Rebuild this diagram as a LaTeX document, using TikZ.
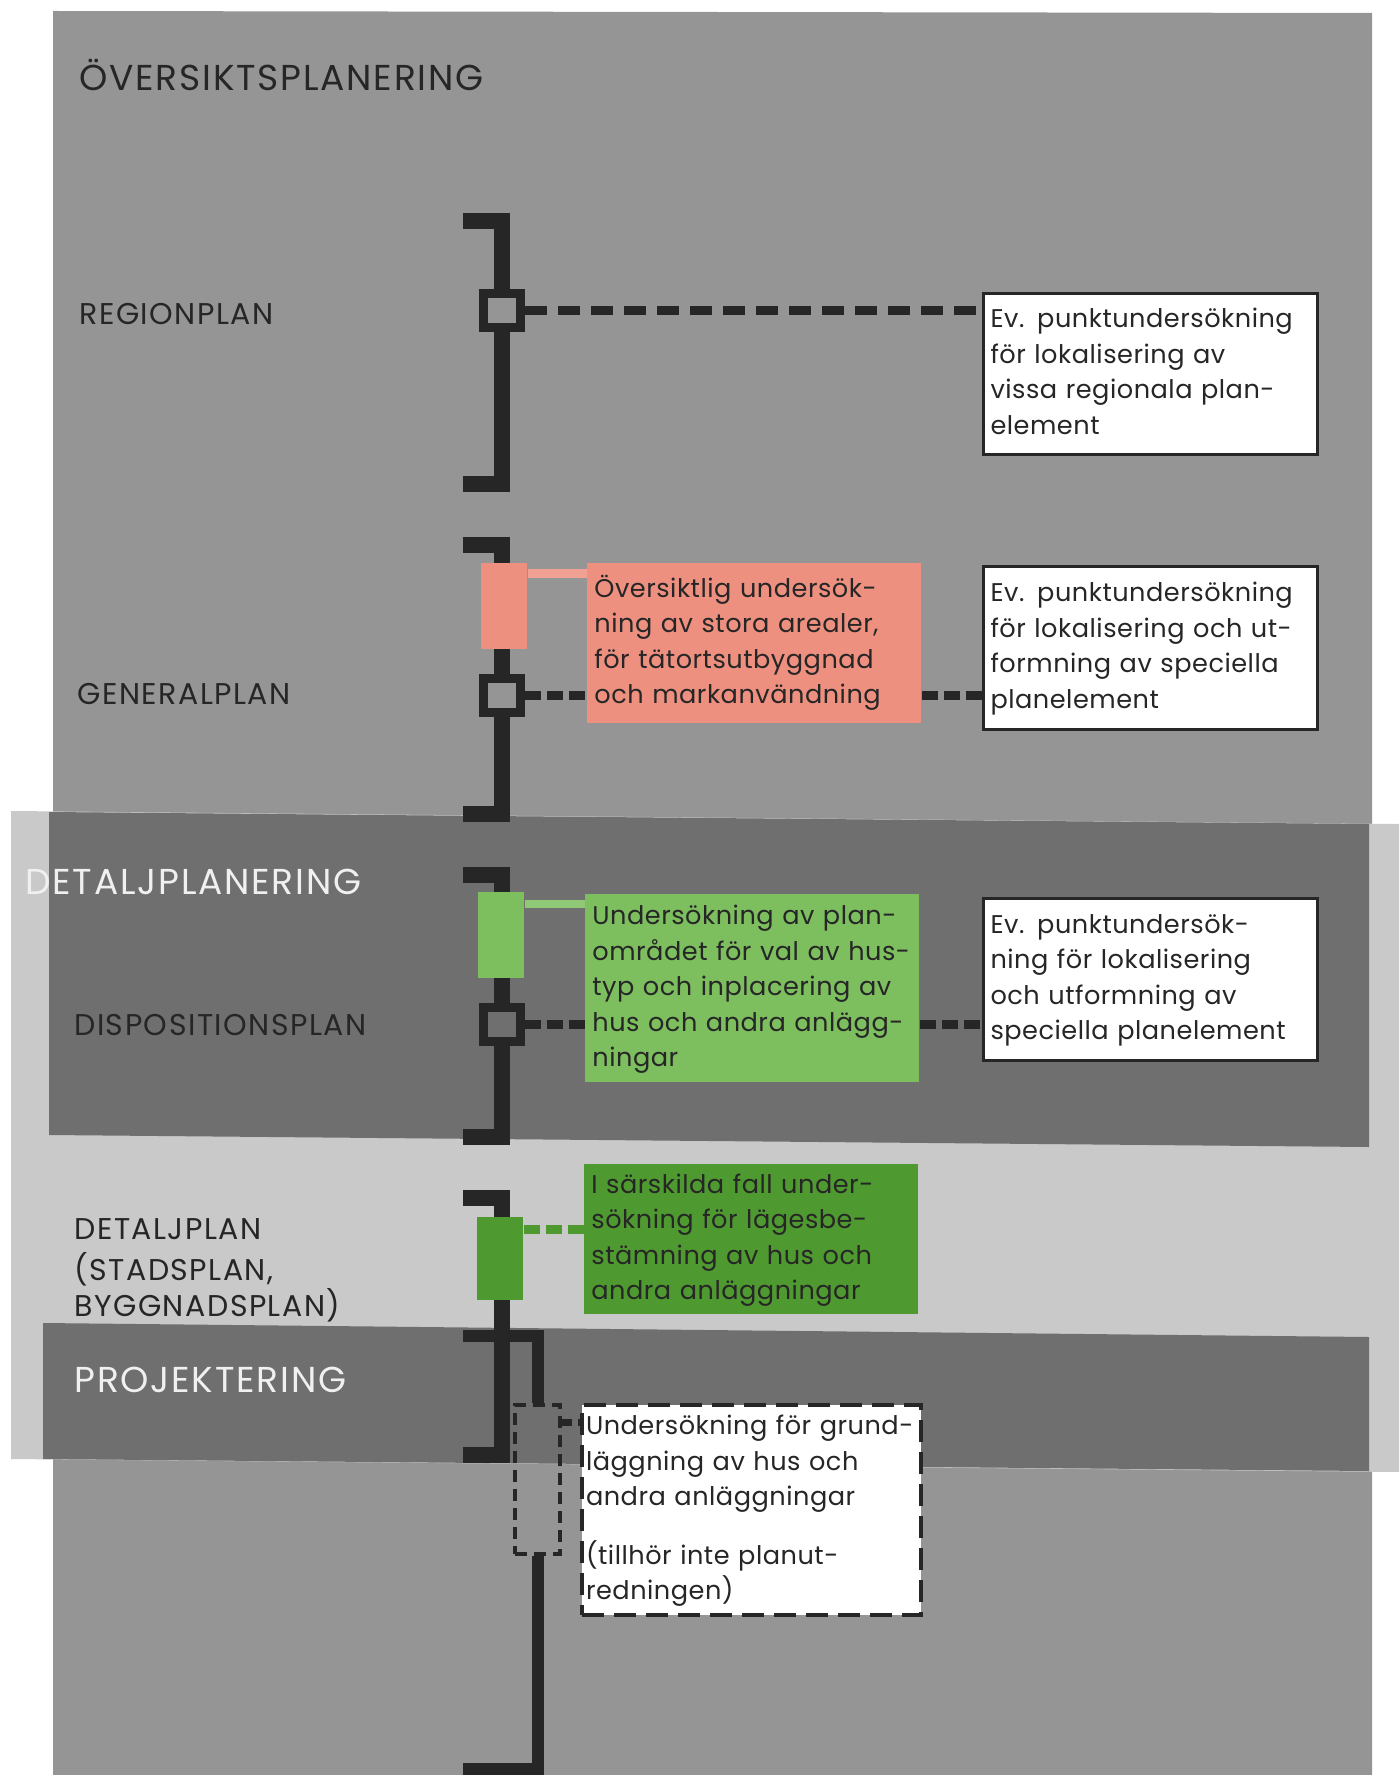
\documentclass[tikz,border=0pt]{standalone}
\usepackage{fontspec}
\setmainfont{Poppins}[LetterSpace=2]
\newfontfamily\spacedfont{Poppins}[LetterSpace=5]
\definecolor{PanelClr}{HTML}{959595}
\definecolor{SheetClr}{HTML}{C9C9C9}
\definecolor{BandClr}{HTML}{6F6F6F}
\definecolor{InkClr}{HTML}{262626}
\definecolor{SalmonClr}{HTML}{EE9080}
\definecolor{GreenClr}{HTML}{7DBE5F}
\definecolor{DarkGreenClr}{HTML}{4F9A30}

\begin{document}
\begin{tikzpicture}[x=0.5pt,y=-0.5pt,
  bar/.style={line width=8pt,color=InkClr,line join=miter},
  link/.style={line width=4.5pt,color=InkClr,dash pattern=on 11pt off 5.5pt},
  shortlink/.style={line width=4.5pt,color=InkClr,dash pattern=on 8pt off 3pt},
  tap/.style={minimum width=23pt,minimum height=43pt,inner sep=0pt,anchor=north west},
  knot/.style={draw=InkClr,line width=4.5pt,minimum width=18.5pt,minimum height=17pt,inner sep=0pt},
  note/.style={anchor=north west,inner xsep=3.5pt,inner ysep=0pt,minimum width=167pt,text width=160pt,align=left,font=\fontsize{12.8}{17.75}\selectfont,text=InkClr},
  phase/.style={anchor=base west,font=\spacedfont\fontsize{18}{22}\selectfont,inner sep=0pt},
  stage/.style={font=\spacedfont\fontsize{15}{18}\selectfont,inner sep=0pt,text=InkClr,align=left}]
\useasboundingbox (0,0) rectangle (1399,1775);
\fill[white] (0,0) rectangle (1399,1775);

\fill[PanelClr] (53,11) -- (1372,13) -- (1372,1775) -- (53,1775) -- cycle;
\fill[SheetClr] (11,811) -- (1399,824) -- (1399,1472) -- (11,1459) -- cycle;
\fill[BandClr] (49,812) -- (1369,824) -- (1369,1147) -- (49,1135) -- cycle;
\fill[BandClr] (43,1323) -- (1369,1337) -- (1369,1471) -- (43,1459) -- cycle;

\node[phase,text=InkClr] (oversikt) at (79,91) {ÖVERSIKTSPLANERING};
\node[phase,text=white!94!black] (detalj) at (25,894) {DETALJPLANERING};
\node[phase,text=white!94!black] (projekt) at (74,1392) {PROJEKTERING};
\node[stage,anchor=base west] (region) at (79,325) {REGIONPLAN};
\node[stage,anchor=base west] (general) at (77,704) {GENERALPLAN};
\node[stage,anchor=base west] (dispo) at (74,1035) {DISPOSITIONSPLAN};
\node[stage,anchor=north west] (detaljplan) at (74,1214) {\strut DETALJPLAN\\(STADSPLAN,\\BYGGNADSPLAN)};

\draw[bar] (463,221) -- (502,221) -- (502,484) -- (463,484);
\draw[bar] (463,545) -- (502,545) -- (502,814) -- (463,814);
\draw[bar] (463,875) -- (502,875) -- (502,1137) -- (463,1137);
\draw[bar] (463,1198) -- (502,1198) -- (502,1455) -- (463,1455);

\node[tap,fill=SalmonClr] (tapG) at (481,563) {};
\node[tap,fill=GreenClr] (tapD) at (478,892) {};
\node[tap,fill=DarkGreenClr,minimum height=41.5pt] (tapDP) at (477,1217) {};
\node[tap,draw=InkClr,line width=2pt,dash pattern=on 6pt off 3.5pt,minimum width=22.5pt,minimum height=74.5pt] (tapP) at (513,1403) {};
\draw[bar,line width=6pt] (463,1336) -| (tapP.north);
\draw[bar,line width=6pt] (tapP.south) |- (463,1769);

\node[knot,fill=PanelClr] (knotR) at (502,310.5) {};
\node[knot,fill=PanelClr] (knotG) at (502,695.5) {};
\node[knot,fill=BandClr] (knotD) at (501.5,1024) {};

\node[note,fill=white,draw=InkClr,line width=1.5pt,minimum height=80.5pt] (noteR) at (982,292)
  {\strut Ev. punktundersökning\\för lokalisering av\\vissa regionala plan-\\element\strut};
\node[note,fill=white,draw=InkClr,line width=1.5pt,minimum height=81.5pt] (noteG) at (982,565)
  {\strut Ev. punktundersökning\\för lokalisering och ut-\\formning av speciella\\planelement\strut};
\node[note,fill=white,draw=InkClr,line width=1.5pt,minimum height=81pt] (noteD) at (982,897)
  {\strut Ev. punktundersök-\\ning för lokalisering\\och utformning av\\speciella planelement\strut};
\node[note,fill=SalmonClr,minimum height=80pt] (sketchG) at (587,563)
  {\strut Översiktlig undersök-\\ning av stora arealer,\\för tätortsutbyggnad\\och markanvändning\strut};
\node[note,fill=GreenClr,minimum height=94pt] (sketchD) at (585,894)
  {\strut Undersökning av plan-\\området för val av hus-\\typ och inplacering av\\hus och andra anlägg-\\ningar\strut};
\node[note,fill=DarkGreenClr,minimum height=75pt] (sketchDP) at (584,1164)
  {\strut I särskilda fall under-\\sökning för lägesbe-\\stämning av hus och\\andra anläggningar\strut};
\node[note,fill=white,draw=InkClr,line width=2pt,dash pattern=on 11pt off 5pt,inner xsep=2pt,minimum width=169.5pt,text width=165.5pt,minimum height=105pt] (sketchP) at (580,1403)
  {\strut Undersökning för grund-\\läggning av hus och\\andra anläggningar\\[11.5pt](tillhör inte planut-\\redningen)\strut};

\draw[link] (knotR.east) -- (knotR.east -| noteR.west);
\draw[shortlink] (knotG.east) -- (knotG.east -| sketchG.west);
\draw[shortlink] (knotG.east -| sketchG.east) -- (knotG.east -| noteG.west);
\draw[shortlink] (knotD.east) -- (knotD.east -| sketchD.west);
\draw[shortlink] (knotD.east -| sketchD.east) -- (knotD.east -| noteD.west);

\coordinate (tieG) at ([yshift=-5pt]tapG.north east);
\coordinate (tieD) at ([yshift=-6pt]tapD.north east);
\coordinate (tieDP) at ([yshift=-6pt]tapDP.north east);
\coordinate (tieP) at ([yshift=-9.5pt]tapP.north east);
\draw[line width=4.5pt,SalmonClr!85!white] (tieG) -- (tieG -| sketchG.west);
\draw[line width=4pt,GreenClr!85!white] (tieD) -- (tieD -| sketchD.west);
\draw[shortlink,DarkGreenClr] (tieDP) -- (tieDP -| sketchDP.west);
\draw[line width=3.5pt,InkClr,dash pattern=on 5pt off 3pt] (tieP) -- (tieP -| sketchP.west);
\end{tikzpicture}
\end{document}
